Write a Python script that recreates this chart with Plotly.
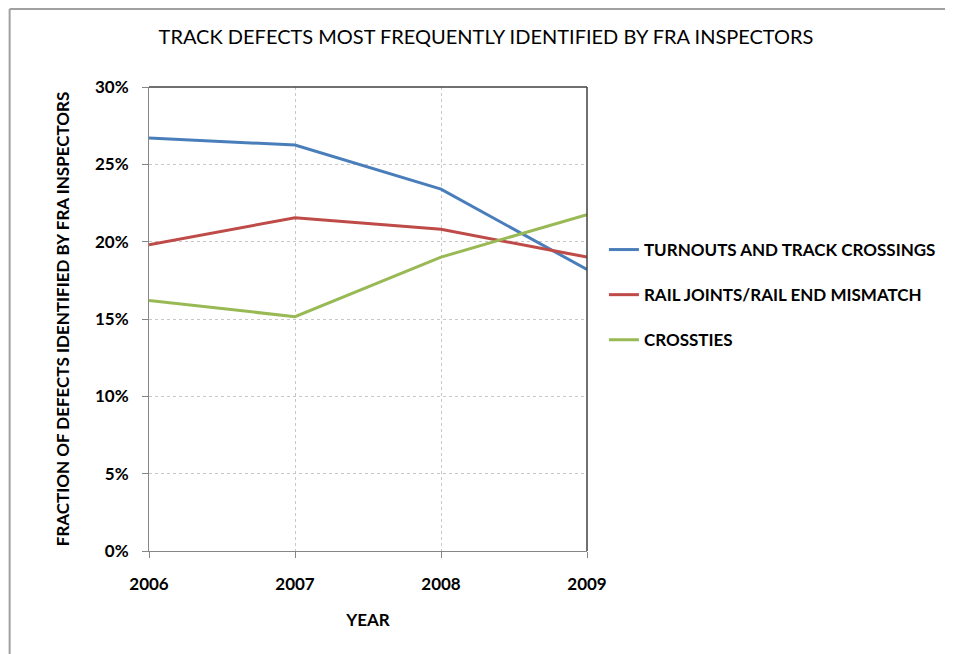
import plotly.graph_objects as go

years = [2006, 2007, 2008, 2009]
turnouts = [0.267, 0.2625, 0.234, 0.182]
rail_joints = [0.198, 0.2155, 0.208, 0.190]
crossties = [0.162, 0.1515, 0.190, 0.2175]
series_names = ["TURNOUTS AND TRACK CROSSINGS", "RAIL JOINTS/RAIL END MISMATCH", "CROSSTIES"]
series_colors = ["#4A7EBB", "#BE4B48", "#98B954"]
y_ticks = [0, 0.05, 0.10, 0.15, 0.20, 0.25, 0.30]

FONT = "Lato"
OFF = 8  # page body margin offset

fig = go.Figure()
for i, (name, vals, col) in enumerate(zip(series_names, [turnouts, rail_joints, crossties], series_colors)):
    fig.add_trace(go.Scatter(x=years, y=vals, mode="lines", name=name,
                             legendgroup=str(i),
                             line=dict(color=col, width=3)))

# target screen coordinates of plot area
L, R, T, B = 149, 589, 87, 551
W, H = 953 - OFF, 654 - OFF
pw, ph = R - L, B - T

def px(x):
    return (x - L) / pw

def py(y):
    return (B - y) / ph

fig.update_layout(
    width=W, height=H,
    margin=dict(l=L - OFF, r=W - (R - OFF), t=T - OFF, b=H - (B - OFF)),
    paper_bgcolor="white", plot_bgcolor="white",
    title=dict(text="TRACK DEFECTS MOST FREQUENTLY IDENTIFIED BY FRA INSPECTORS",
               x=(486 - OFF) / W, xanchor="center", y=1 - (37 - OFF) / H, yanchor="middle",
               font=dict(family=FONT, size=20, color="black")),
    font=dict(family=FONT, color="black"),
    legend=dict(x=px(606), xanchor="left", y=py(232), yanchor="top",
                font=dict(family=FONT, size=17, color="black", weight="bold"),
                tracegroupgap=20, traceorder="grouped", itemwidth=30,
                bgcolor="rgba(0,0,0,0)"),
    showlegend=True,
)

fig.update_xaxes(
    range=[2006, 2009], tickvals=years, ticktext=[str(y) for y in years],
    showgrid=True, gridcolor="#C8C8C8", griddash="dot", gridwidth=1,
    showline=True, linecolor="#868686", linewidth=1,
    ticks="outside", ticklen=6, tickcolor="#868686",
    ticklabelstandoff=12,
    tickfont=dict(family=FONT, size=17, color="black", weight="bold"),
    title=dict(text="YEAR", font=dict(family=FONT, size=17, color="black", weight="bold"), standoff=20),
    zeroline=False,
)
fig.update_yaxes(
    range=[0, 0.30], tickvals=y_ticks, tickformat=".0%",
    showgrid=True, gridcolor="#C8C8C8", griddash="dot", gridwidth=1,
    showline=True, linecolor="#868686", linewidth=1,
    ticks="outside", ticklen=6, tickcolor="#868686",
    ticklabelstandoff=10,
    tickfont=dict(family=FONT, size=17, color="black", weight="bold"),
    title=dict(text="FRACTION OF DEFECTS IDENTIFIED BY FRA INSPECTORS",
               font=dict(family=FONT, size=17, color="black", weight="bold"), standoff=20),
    zeroline=False,
)

# plot area top/right border (darker)
fig.add_shape(type="line", xref="paper", yref="paper", x0=0, x1=1, y0=1, y1=1,
              line=dict(color="#404040", width=1.5))
fig.add_shape(type="line", xref="paper", yref="paper", x0=1, x1=1, y0=0, y1=1,
              line=dict(color="#404040", width=1.5))
# outer chart border (left and top visible)
fig.add_shape(type="line", xref="paper", yref="paper", x0=px(9), x1=px(980), y0=py(9), y1=py(9),
              line=dict(color="#A0A0A0", width=2))
fig.add_shape(type="line", xref="paper", yref="paper", x0=px(9), x1=px(9), y0=py(9), y1=py(680),
              line=dict(color="#A0A0A0", width=2))

fig.write_html("out.html")
